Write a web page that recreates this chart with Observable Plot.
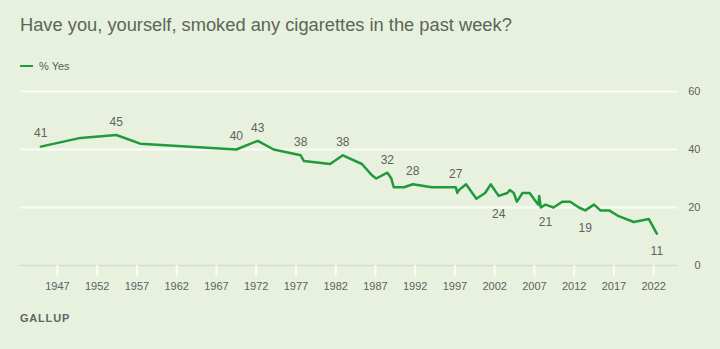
<!DOCTYPE html>
<html>
<head>
<meta charset="utf-8">
<script src="https://cdn.jsdelivr.net/npm/d3@7"></script>
<script src="https://cdn.jsdelivr.net/npm/@observablehq/plot@0.6"></script>
<style>
  html, body { margin: 0; padding: 0; background: #e8f1de; }
  body { width: 720px; height: 349px; position: relative; overflow: hidden; font-family: "Liberation Sans", Arial, sans-serif; }
  #title { position: absolute; left: 20px; top: 14px; font-size: 18.3px; color: #5a665a; white-space: nowrap; }
  #legend { position: absolute; left: 20px; top: 60px; font-size: 11px; color: #555f55; display: flex; align-items: center; }
  #legend .sw { width: 13px; height: 2.5px; background: #1f9a3c; margin-right: 6px; }
  #chart { position: absolute; left: 0; top: 80px; }
  #source { position: absolute; left: 20px; top: 312px; font-size: 11px; letter-spacing: 0.8px; color: #5f675f; font-weight: bold; }
</style>
</head>
<body>
<div id="title">Have you, yourself, smoked any cigarettes in the past week?</div>
<div id="legend"><span class="sw"></span><span>% Yes</span></div>
<div id="chart"></div>
<div id="source">GALLUP</div>
<script>
const years = [1944.9, 1949.9, 1954.4, 1957.4, 1969.5, 1972.2, 1974.2, 1977.6, 1978.0, 1981.3, 1982.9, 1985.3, 1986.6, 1987.1, 1988.5, 1989.0, 1989.3, 1990.6, 1991.7, 1994.1, 1997.1, 1997.3, 1997.5, 1998.4, 1999.7, 2000.8, 2001.5, 2002.5, 2003.6, 2003.9, 2004.4, 2004.8, 2005.5, 2006.4, 2007.2, 2007.5, 2007.6, 2007.8, 2008.4, 2009.4, 2010.5, 2011.5, 2012.6, 2013.4, 2014.5, 2015.3, 2016.4, 2017.6, 2019.5, 2021.4, 2022.4];
const values = [41, 44, 45, 42, 40, 43, 40, 38, 36, 35, 38, 35, 31, 30, 32, 30, 27, 27, 28, 27, 27, 25, 26, 28, 23, 25, 28, 24, 25, 26, 25, 22, 25, 25, 22, 21, 24, 20, 21, 20, 22, 22, 20, 19, 21, 19, 19, 17, 15, 16, 11];
const labelsAbove = [1944.9, 1954.4, 1969.5, 1972.2, 1977.6, 1982.9, 1988.5, 1991.7, 1997.1];
const labelsBelow = [2002.5, 2008.4, 2013.4, 2022.4];
const xTicks = [1947, 1952, 1957, 1962, 1967, 1972, 1977, 1982, 1987, 1992, 1997, 2002, 2007, 2012, 2017, 2022];
const yTicks = [0, 20, 40, 60];

const data = years.map((y, i) => ({year: y, value: values[i]}));
const above = data.filter(d => labelsAbove.includes(d.year));
const below = data.filter(d => labelsBelow.includes(d.year));

const green = "#1f9a3c";
const chart = Plot.plot({
  width: 720,
  height: 225,
  marginLeft: 20,
  marginRight: 43,
  marginTop: 11,
  marginBottom: 40,
  style: {background: "transparent", fontFamily: "'Liberation Sans', Arial, sans-serif"},
  x: {domain: [1942.35, 2025]},
  y: {domain: [0, 60]},
  marks: [
    Plot.ruleY(yTicks.filter(d => d > 0), {stroke: "#fafdf6", strokeWidth: 2}),
    Plot.ruleY([0], {stroke: "#d6dcce", strokeWidth: 1.5}),
    Plot.axisX({ticks: xTicks, tickFormat: d => String(d), tickSize: 11, tickPadding: 6, stroke: "#fafdf6", strokeWidth: 2, color: "#5f5f5f", fontSize: 11, label: null}),
    Plot.axisY({ticks: [], label: null}),
    Plot.text(yTicks, {y: d => d, frameAnchor: "right", dx: 23, textAnchor: "end", text: d => String(d), fill: "#5f5f5f", fontSize: 11}),
    Plot.line(data, {x: "year", y: "value", stroke: green, strokeWidth: 2.5, curve: "linear"}),
    Plot.text(above, {x: "year", y: "value", text: d => String(d.value), dy: -13, fill: "#616161", fontSize: 12}),
    Plot.text(below, {x: "year", y: "value", text: d => String(d.value), dy: 18, fill: "#616161", fontSize: 12})
  ]
});
document.getElementById("chart").appendChild(chart);
</script>
</body>
</html>
